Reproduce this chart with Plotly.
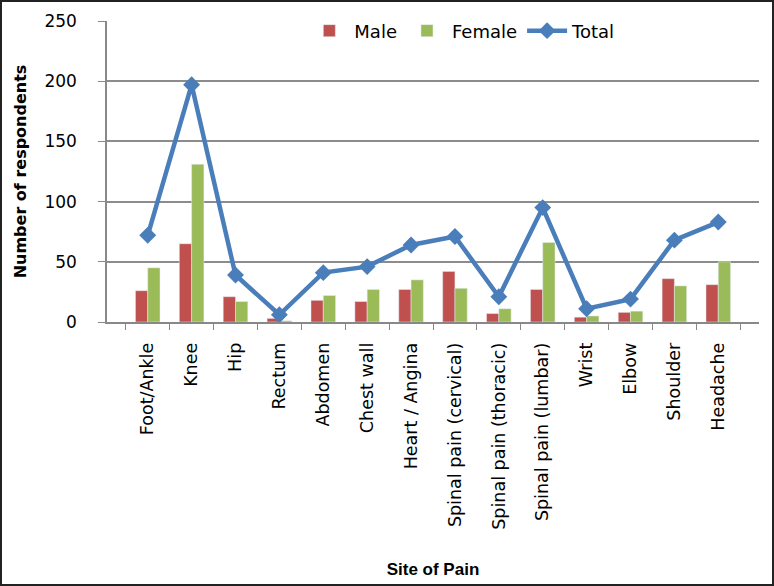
import plotly.graph_objects as go

categories = ["Foot/Ankle", "Knee", "Hip", "Rectum", "Abdomen", "Chest wall",
              "Heart / Angina", "Spinal pain (cervical)", "Spinal pain (thoracic)",
              "Spinal pain (lumbar)", "Wrist", "Elbow", "Shoulder", "Headache"]
male = [26, 65, 21, 3, 18, 17, 27, 42, 7, 27, 4, 8, 36, 31]
female = [45, 131, 17, 1, 22, 27, 35, 28, 11, 66, 5, 9, 30, 50]
total = [72, 197, 39, 6, 41, 46, 64, 71, 21, 95, 11, 19, 68, 83]
y_ticks = [0, 50, 100, 150, 200, 250]

W, H = 774, 586
ml, mr, mt, mb = 107, 15, 21, 264
pw, ph = W - ml - mr, H - mt - mb

fig = go.Figure()
fig.add_trace(go.Bar(x=categories, y=male, name="Male", marker_color="#C0504D"))
fig.add_trace(go.Bar(x=categories, y=female, name="Female", marker_color="#9BBB59"))
fig.add_trace(go.Scatter(x=categories, y=total, name="Total", mode="lines+markers",
                         line=dict(color="#4A7EBB", width=4.5),
                         marker=dict(symbol="diamond", size=13, color="#4A7EBB")))

fig.update_layout(
    width=W, height=H,
    margin=dict(l=ml, r=mr, t=mt, b=mb, autoexpand=False),
    paper_bgcolor="white", plot_bgcolor="white",
    barmode="group", bargap=0.44, bargroupgap=0,
    font=dict(family="DejaVu Sans", color="black"),
    showlegend=True,
    legend=dict(orientation="h", x=0.545, xanchor="center", y=0.967, yanchor="middle",
                font=dict(size=18, family="DejaVu Sans"), bgcolor="rgba(0,0,0,0)",
                itemwidth=40, traceorder="normal"),
    xaxis=dict(
        type="category", tickangle=-90, tickfont=dict(size=17.5, family="DejaVu Sans"),
        showline=True, linecolor="#888888", linewidth=1.5,
        ticks="outside", tickson="boundaries", ticklen=6, tickcolor="#888888",
        ticklabelstandoff=12,
        showgrid=False,
        title=dict(text="<b>Site of Pain</b>", font=dict(size=17, family="Liberation Sans"), standoff=34),
    ),
    yaxis=dict(
        range=[0, 250], tickvals=y_ticks, tickfont=dict(size=17, family="DejaVu Sans"),
        showline=True, linecolor="#888888", linewidth=1.5,
        ticks="outside", ticklen=7, tickcolor="#888888", ticklabelstandoff=18,
        showgrid=True, gridcolor="#8C8C8C", gridwidth=1.5, zeroline=False,
        title=dict(text="<b>Number of respondents</b>", font=dict(size=16, family="DejaVu Sans"), standoff=14),
    ),
)

fig.add_shape(type="rect", xref="paper", yref="paper",
              x0=-ml / pw + 1 / pw, x1=(W - ml - 1) / pw,
              y0=-mb / ph + 1 / ph, y1=(H - mb - 1) / ph,
              line=dict(color="#222222", width=2), layer="above")

fig.write_html("out.html", config={"displayModeBar": False},
               post_script="document.body.style.margin='0';")
